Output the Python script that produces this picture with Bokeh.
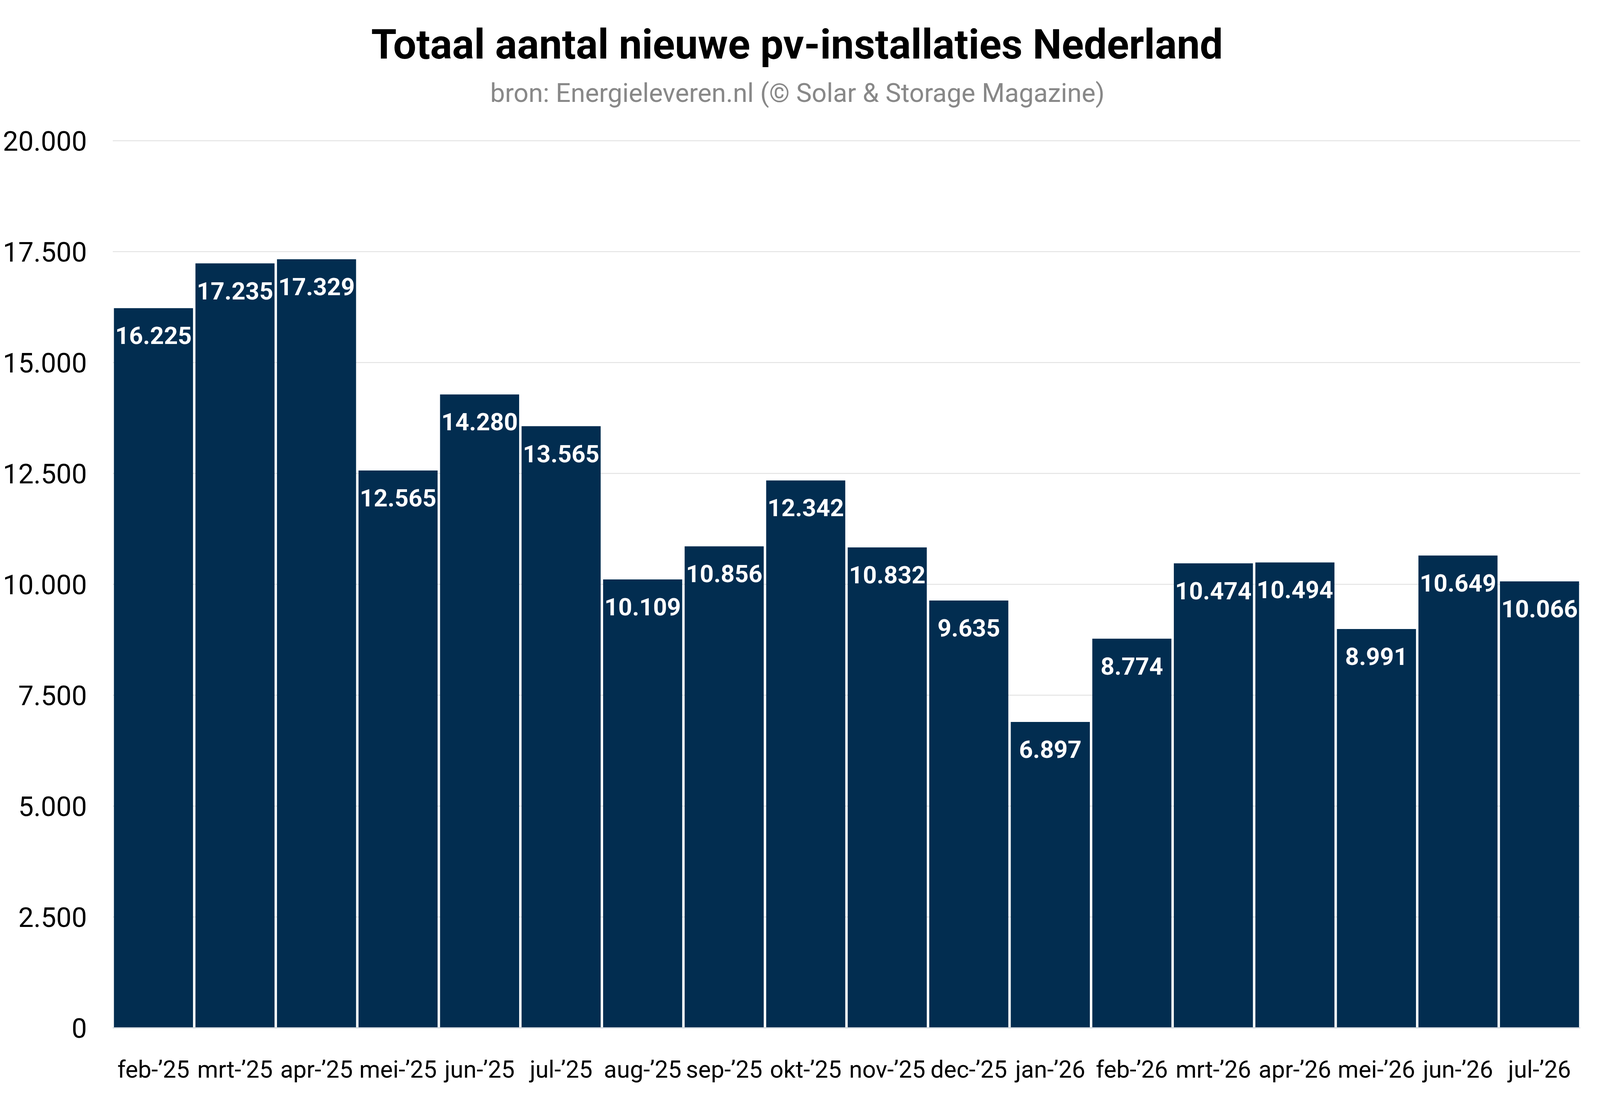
from bokeh.plotting import figure
from bokeh.models import (FactorRange, Range1d, FixedTicker, CustomJSTickFormatter,
                          ColumnDataSource, Label)
from bokeh.core.properties import value
from bokeh.embed import file_html
from bokeh.resources import INLINE

# ---- data ----
months = ["feb-’25", "mrt-’25", "apr-’25", "mei-’25", "jun-’25", "jul-’25",
          "aug-’25", "sep-’25", "okt-’25", "nov-’25", "dec-’25", "jan-’26",
          "feb-’26", "mrt-’26", "apr-’26", "mei-’26", "jun-’26", "jul-’26"]
installaties = [16225, 17235, 17329, 12565, 14280, 13565,
                10109, 10856, 12342, 10832, 9635, 6897,
                8774, 10474, 10494, 8991, 10649, 10066]
y_ticks = [0, 2500, 5000, 7500, 10000, 12500, 15000, 17500, 20000]

title_text = "Totaal aantal nieuwe pv-installaties Nederland"
subtitle_text = "bron: Energieleveren.nl (© Solar & Storage Magazine)"

labels = [f"{v:,}".replace(",", ".") for v in installaties]
src = ColumnDataSource(dict(x=months, top=installaties, lab=labels))

# ---- layout (page is 4096 px wide) ----
W, H = 4080, 2790
FL, FR, FB = 288, 4045, 2632          # frame left / right / bottom in canvas px
GRID_TOP = 360                        # canvas y of the 20.000 grid line
y_end = 20000 * FB / (FB - GRID_TOP)

p = figure(width=W, height=H, output_backend="svg", toolbar_location=None,
           title=None,
           x_range=FactorRange(*months, range_padding=0),
           y_range=Range1d(0, y_end),
           min_border_left=FL, min_border_right=W - FR,
           min_border_top=0, min_border_bottom=H - FB,
           background_fill_color="white", border_fill_color="white")
p.outline_line_color = None

p.vbar(x="x", top="top", width=0.97, source=src,
       fill_color="#022d50", line_color=None)

p.text(x="x", y="top", text="lab", source=src,
       text_font=value("Roboto"), text_font_style="bold",
       text_font_size="62px", text_color="white",
       text_align="center", text_baseline="alphabetic", y_offset=70)

# grid
p.xgrid.grid_line_color = None
p.ygrid.grid_line_color = "#dddddd"
p.ygrid.grid_line_width = 2
p.ygrid.ticker = FixedTicker(ticks=y_ticks)

# y axis
p.yaxis.ticker = FixedTicker(ticks=y_ticks)
p.yaxis.formatter = CustomJSTickFormatter(
    code="return String(tick).replace(/\\B(?=(\\d{3})+(?!\\d))/g, '.');")
p.yaxis.axis_line_color = None
p.yaxis.major_tick_line_color = None
p.yaxis.minor_tick_line_color = None
p.yaxis.major_tick_out = 0
p.yaxis.major_tick_in = 0
p.yaxis.major_label_standoff = 66
p.yaxis.major_label_text_font = "Roboto"
p.yaxis.major_label_text_font_size = "70px"
p.yaxis.major_label_text_color = "#000000"

# x axis
p.xaxis.axis_line_color = "#d3dae0"
p.xaxis.axis_line_width = 3
p.xaxis.major_tick_line_color = None
p.xaxis.minor_tick_line_color = None
p.xaxis.major_tick_out = 0
p.xaxis.major_tick_in = 0
p.xaxis.major_label_standoff = 70
p.xaxis.major_label_text_font = "Roboto"
p.xaxis.major_label_text_font_size = "61px"
p.xaxis.major_label_text_color = "#000000"

# title + subtitle inside the (tall) frame, screen units from frame bottom-left
p.add_layout(Label(x=1752, y=FB - 114, x_units="screen", y_units="screen",
                   text=title_text, text_font="Roboto", text_font_style="bold",
                   text_font_size="105px", text_color="#000000",
                   text_align="center", text_baseline="alphabetic"))
p.add_layout(Label(x=1753, y=FB - 237, x_units="screen", y_units="screen",
                   text=subtitle_text, text_font="Roboto",
                   text_font_size="67px", text_color="#888888",
                   text_align="center", text_baseline="alphabetic"))

open("out.html", "w").write(file_html(p, INLINE))
